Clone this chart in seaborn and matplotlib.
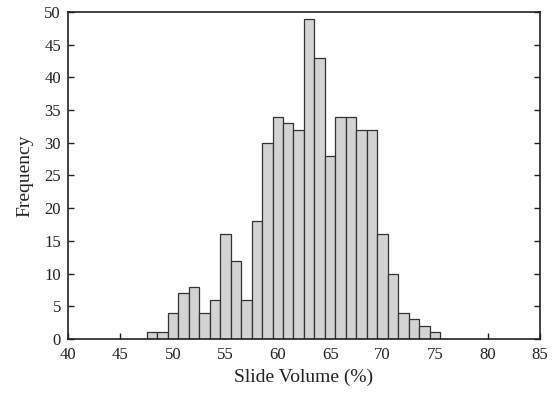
import numpy as np
import pandas as pd
import matplotlib
matplotlib.use('Agg')
import matplotlib.pyplot as plt
import seaborn as sns

# bin centres (%), 1% wide bins, and counts
bin_centres = [48, 49, 50, 51, 52, 53, 54, 55, 56, 57, 58, 59, 60, 61,
               62, 63, 64, 65, 66, 67, 68, 69, 70, 71, 72, 73, 74, 75]
counts = [1, 1, 4, 7, 8, 4, 6, 16, 12, 6, 18, 30, 34, 33,
          32, 49, 43, 28, 34, 34, 32, 32, 16, 10, 4, 3, 2, 1]
x_ticks = [40, 45, 50, 55, 60, 65, 70, 75, 80, 85]
y_ticks = [0, 5, 10, 15, 20, 25, 30, 35, 40, 45, 50]

df = pd.DataFrame({'volume': bin_centres, 'n': counts})

sns.set_style('ticks')
plt.rcParams['font.family'] = ['Liberation Serif', 'DejaVu Serif']

fig = plt.figure(figsize=(5.59, 3.95), dpi=100)
ax = fig.add_axes([0.1216, 0.1418, 0.8444, 0.8278])

sns.histplot(data=df, x='volume', weights='n', binwidth=1, binrange=(47.5, 75.5),
             color='#d3d3d3', edgecolor='#333333', linewidth=0.9, alpha=1, ax=ax)

ax.set_xlim(40, 85)
ax.set_ylim(0, 50)
ax.set_xticks(x_ticks)
ax.set_yticks(y_ticks)
ax.tick_params(direction='in', length=4, width=1, colors='#222222',
               labelsize=12, right=True, top=False)
ax.tick_params(axis='x', pad=6)
ax.tick_params(axis='y', pad=5)
for s in ax.spines.values():
    s.set_linewidth(1.2)
    s.set_color('#222222')
    s.set_visible(True)
ax.set_xlabel('Slide Volume (%)', fontsize=14, color='#222222', labelpad=4)
ax.set_ylabel('Frequency', fontsize=14, color='#222222', labelpad=8)

fig.savefig('out.png', dpi=100)
